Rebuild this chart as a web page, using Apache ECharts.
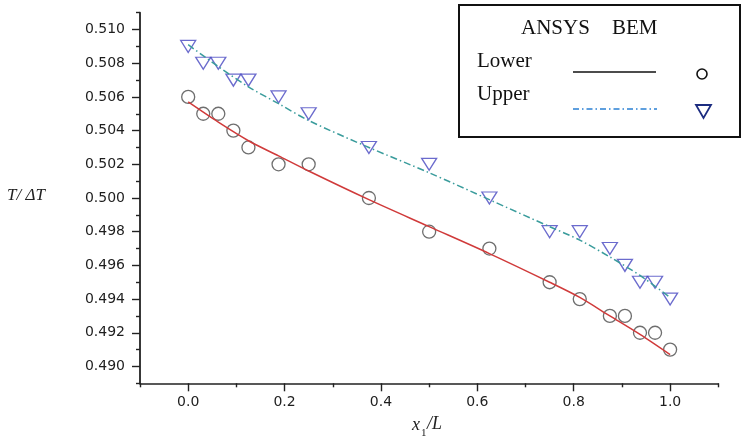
<!DOCTYPE html>
<html>
<head>
<meta charset="utf-8">
<script src="https://cdn.jsdelivr.net/npm/echarts@6/dist/echarts.min.js"></script>
<style>
  html, body { margin: 0; padding: 0; background: #fff; }
  #chart { width: 743px; height: 439px; }
</style>
</head>
<body>
<div id="chart"></div>
<script>
// Temperature ratio along the plate: ANSYS curves and BEM points
const xCurve = [0, 0.0625, 0.125, 0.1875, 0.25, 0.375, 0.5, 0.625, 0.75, 0.8125, 0.875, 0.9375, 1.0];
const ansysLower = [0.5057, 0.5045, 0.5034, 0.5025, 0.5016, 0.4999, 0.4983, 0.4967, 0.4950, 0.4941, 0.4930, 0.4919, 0.4907];
const ansysUpper = [0.5091, 0.5078, 0.5066, 0.5056, 0.5046, 0.5030, 0.5015, 0.4999, 0.4983, 0.4975, 0.4965, 0.4954, 0.4941];

const xBem = [0, 0.03125, 0.0625, 0.09375, 0.125, 0.1875, 0.25, 0.375, 0.5, 0.625, 0.75, 0.8125, 0.875, 0.90625, 0.9375, 0.96875, 1.0];
const bemLower = [0.506, 0.505, 0.505, 0.504, 0.503, 0.502, 0.502, 0.500, 0.498, 0.497, 0.495, 0.494, 0.493, 0.493, 0.492, 0.492, 0.491];
const bemUpper = [0.509, 0.508, 0.508, 0.507, 0.507, 0.506, 0.505, 0.503, 0.502, 0.500, 0.498, 0.498, 0.497, 0.496, 0.495, 0.495, 0.494];

// Axis ticks: labelled majors and unlabelled minors
const xMajor = [0.0, 0.2, 0.4, 0.6, 0.8, 1.0];
const xMinor = [-0.1, 0.1, 0.3, 0.5, 0.7, 0.9, 1.1];
const yMajor = [0.490, 0.492, 0.494, 0.496, 0.498, 0.500, 0.502, 0.504, 0.506, 0.508, 0.510];
const yMinor = [0.489, 0.491, 0.493, 0.495, 0.497, 0.499, 0.501, 0.503, 0.505, 0.507, 0.509, 0.511];

const pair = (xs, ys) => xs.map((x, i) => [x, ys[i]]);

const axisColor = '#222';
const labelFont = { fontFamily: 'DejaVu Sans', fontSize: 14, color: '#1e1e1e' };
const serif = 'Liberation Serif';

const chart = echarts.init(document.getElementById('chart'), null, { renderer: 'canvas' });

chart.setOption({
  animation: false,
  backgroundColor: '#fff',
  grid: { left: 140, right: 24.7, top: 12.7, bottom: 55.7 },
  xAxis: [
    {
      type: 'value', min: -0.1, max: 1.1, position: 'bottom',
      axisLine: { show: true, onZero: false, lineStyle: { color: axisColor, width: 1.6 } },
      axisTick: { show: true, length: 8, customValues: xMajor, lineStyle: { color: axisColor, width: 1.4 } },
      axisLabel: Object.assign({ customValues: xMajor, margin: 12, formatter: v => v.toFixed(1) }, labelFont),
      splitLine: { show: false }
    },
    {
      type: 'value', min: -0.1, max: 1.1, position: 'bottom', gridIndex: 0,
      axisLine: { show: false, onZero: false },
      axisTick: { show: true, length: 4, customValues: xMinor, lineStyle: { color: axisColor, width: 1.4 } },
      axisLabel: { show: false },
      splitLine: { show: false }
    }
  ],
  yAxis: [
    {
      type: 'value', min: 0.489, max: 0.511, position: 'left',
      axisLine: { show: true, onZero: false, lineStyle: { color: axisColor, width: 1.8 } },
      axisTick: { show: true, length: 8, customValues: yMajor, lineStyle: { color: axisColor, width: 1.4 } },
      axisLabel: Object.assign({ customValues: yMajor, margin: 15, formatter: v => v.toFixed(3) }, labelFont),
      splitLine: { show: false }
    },
    {
      type: 'value', min: 0.489, max: 0.511, position: 'left', gridIndex: 0,
      axisLine: { show: false, onZero: false },
      axisTick: { show: true, length: 4, customValues: yMinor, lineStyle: { color: axisColor, width: 1.4 } },
      axisLabel: { show: false },
      splitLine: { show: false }
    }
  ],
  series: [
    {
      name: 'BEM Lower', type: 'scatter', data: pair(xBem, bemLower),
      symbol: 'circle', symbolSize: 13,
      itemStyle: { color: 'rgba(0,0,0,0)', borderColor: '#4a4a4a', borderWidth: 1.3 },
      emphasis: { disabled: true }, z: 2
    },
    {
      name: 'BEM Upper', type: 'scatter', data: pair(xBem, bemUpper),
      symbol: 'path://M0,0L16,0L8,13Z', symbolSize: [15, 12],
      itemStyle: { color: 'rgba(0,0,0,0)', borderColor: '#4646c0', borderWidth: 1.3 },
      emphasis: { disabled: true }, z: 2
    },
    {
      name: 'ANSYS Lower', type: 'line', data: pair(xCurve, ansysLower),
      smooth: 0.3, showSymbol: false,
      lineStyle: { color: '#d03a3a', width: 1.5 },
      emphasis: { disabled: true }, z: 3
    },
    {
      name: 'ANSYS Upper', type: 'line', data: pair(xCurve, ansysUpper),
      smooth: 0.3, showSymbol: false,
      lineStyle: { color: '#3a9c9c', width: 1.5, type: [7, 3, 1.5, 3] },
      emphasis: { disabled: true }, z: 3
    }
  ],
  graphic: [
    // legend panel
    { type: 'rect', shape: { x: 459, y: 5, width: 281, height: 132 },
      style: { fill: '#fff', stroke: '#111', lineWidth: 2 }, z: 10 },
    { type: 'text', x: 521, y: 28, style: { text: 'ANSYS', font: '21px "' + serif + '"', fill: '#111', verticalAlign: 'middle' }, z: 11 },
    { type: 'text', x: 612, y: 28, style: { text: 'BEM', font: '21px "' + serif + '"', fill: '#111', verticalAlign: 'middle' }, z: 11 },
    { type: 'text', x: 477, y: 61, style: { text: 'Lower', font: '21px "' + serif + '"', fill: '#111', verticalAlign: 'middle' }, z: 11 },
    { type: 'text', x: 477, y: 94, style: { text: 'Upper', font: '21px "' + serif + '"', fill: '#111', verticalAlign: 'middle' }, z: 11 },
    { type: 'line', shape: { x1: 573, y1: 72, x2: 656, y2: 72 },
      style: { stroke: '#111', lineWidth: 1.5 }, z: 11 },
    { type: 'line', shape: { x1: 573, y1: 109, x2: 657, y2: 109 },
      style: { stroke: '#2a80d4', lineWidth: 1.5, lineDash: [6, 3, 1.5, 3] }, z: 11 },
    { type: 'circle', shape: { cx: 702, cy: 74, r: 5 },
      style: { fill: 'none', stroke: '#111', lineWidth: 1.6 }, z: 11 },
    { type: 'polygon', shape: { points: [[696, 105], [711, 105], [703.5, 118]] },
      style: { fill: 'none', stroke: '#1c2c80', lineWidth: 1.8 }, z: 11 },
    // axis titles
    { type: 'text', x: 7, y: 196, style: { text: 'T/ ΔT', font: 'italic 17px "' + serif + '"', fill: '#222', verticalAlign: 'middle' } },
    { type: 'text', x: 412, y: 425, style: { text: 'x', font: 'italic 18px "' + serif + '"', fill: '#222', verticalAlign: 'middle' } },
    { type: 'text', x: 421, y: 433, style: { text: '1', font: '11px "' + serif + '"', fill: '#222', verticalAlign: 'middle' } },
    { type: 'text', x: 427, y: 424, style: { text: '/L', font: 'italic 18px "' + serif + '"', fill: '#222', verticalAlign: 'middle' } }
  ]
});
</script>
</body>
</html>
